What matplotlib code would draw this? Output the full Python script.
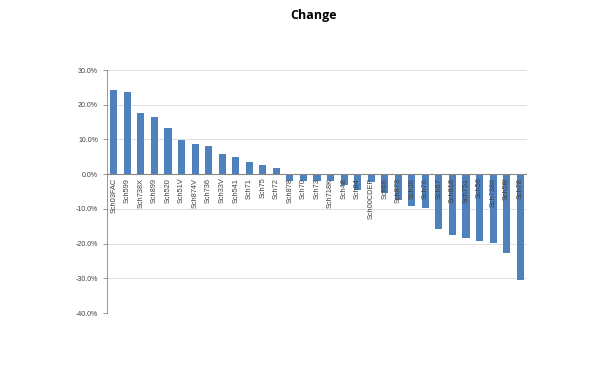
import numpy as np
import matplotlib
matplotlib.use("Agg")
import matplotlib.pyplot as plt
from matplotlib.ticker import PercentFormatter

schools = ["Sch03FAC", "Sch599", "Sch738X", "Sch899", "Sch520", "Sch51V", "Sch874V",
           "Sch736", "Sch33V", "Sch541", "Sch71", "Sch75", "Sch72", "Sch878", "Sch70",
           "Sch73", "Sch718K", "Sch48", "Sch84", "Sch00CDEP", "Sch66", "Sch873", "Sch36",
           "Sch76", "Sch67", "Sch818", "Sch751", "Sch56", "Sch738II", "Sch58I", "Sch78"]
change = [24.2, 23.8, 17.7, 16.5, 13.2, 9.8, 8.6, 8.2, 5.8, 5.0, 3.6, 2.5, 1.7,
          -1.9, -1.9, -1.9, -2.0, -3.0, -4.6, -2.2, -5.3, -7.5, -9.3, -9.8,
          -15.8, -17.4, -18.3, -19.3, -19.7, -22.8, -30.4]

plt.rcParams['font.family'] = ['Liberation Sans', 'DejaVu Sans']
plt.rcParams['axes.unicode_minus'] = False
fig = plt.figure(figsize=(6.06, 3.75), dpi=100)
ax = fig.add_axes([0.1766, 0.1653, 0.693, 0.648])

x = np.arange(len(schools))
ax.bar(x, change, width=0.52, color="#4f81bd", zorder=3)
ax.set_xlim(-0.5, len(schools) - 0.5)
ax.set_ylim(-40, 30)
ax.set_yticks(np.arange(-40, 31, 10))
ax.yaxis.set_major_formatter(PercentFormatter(decimals=1))
ax.tick_params(axis='y', labelsize=5, colors='#868686', length=3, width=0.6)
for t in ax.get_yticklabels():
    t.set_color('#404040')
ax.set_xticks([])
ax.grid(axis='y', color='#e0e0e0', linewidth=0.7, zorder=0)
for s in ['top', 'right', 'bottom']:
    ax.spines[s].set_visible(False)
ax.spines['left'].set_color('#868686')
ax.spines['left'].set_linewidth(0.6)
ax.axhline(0, color='#868686', linewidth=0.8, zorder=4)

# category labels hang below the zero line
for xi, name in zip(x, schools):
    ax.text(xi, -1.0, name, rotation=90, ha='center', va='top', fontsize=5.3,
            color='#404040', zorder=5)

fig.suptitle("Change", x=0.518, y=0.975, fontsize=9, fontweight='bold', family=['Open Sans', 'DejaVu Sans'])
fig.savefig("out.png", dpi=100)
